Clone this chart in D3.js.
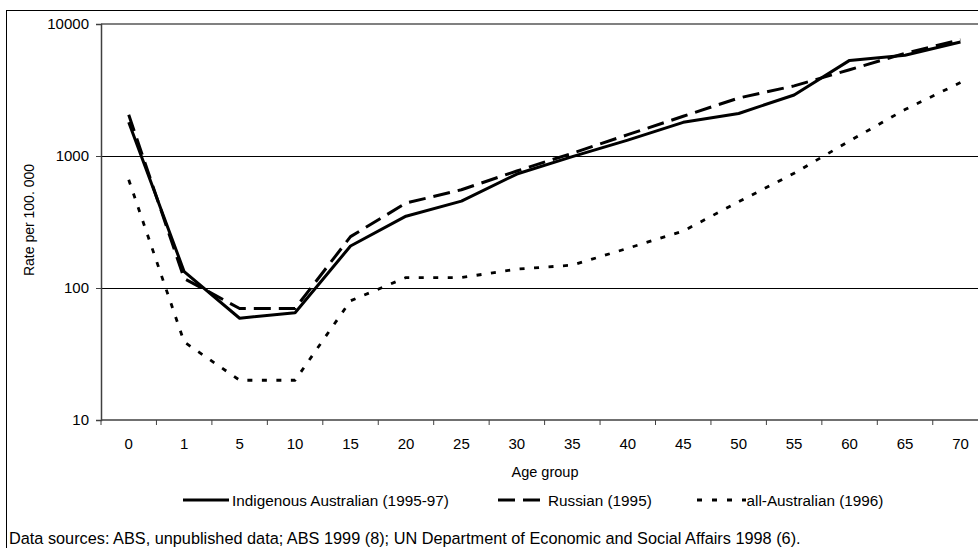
<!DOCTYPE html>
<html>
<head>
<meta charset="utf-8">
<script src="https://cdn.jsdelivr.net/npm/d3@7/dist/d3.min.js"></script>
<style>
  html, body { margin: 0; padding: 0; background: #fff; }
  svg { display: block; font-family: "Liberation Sans", Arial, sans-serif; }
</style>
</head>
<body>
<svg id="chart" width="978" height="548"></svg>
<script>
// Age groups on the category axis
const ageGroups = ["0", "1", "5", "10", "15", "20", "25", "30", "35", "40", "45", "50", "55", "60", "65", "70"];

// Death rates per 100 000 population by age group
const indigenous = [1800, 133, 59, 65, 208, 350, 455, 730, 990, 1320, 1800, 2100, 2900, 5300, 5800, 7300];
const russian = [2050, 118, 70, 70, 245, 440, 555, 770, 1050, 1450, 2000, 2750, 3400, 4500, 6000, 7600];
const allAustralian = [660, 39, 20, 20, 80, 120, 120, 139, 149, 200, 270, 450, 740, 1300, 2250, 3600];

const seriesNames = ["Indigenous Australian (1995-97)", "Russian (1995)", "all-Australian (1996)"];
const yTicks = [10, 100, 1000, 10000];

const series = [
  { name: seriesNames[0], values: indigenous, dash: null, width: 3 },
  { name: seriesNames[1], values: russian, dash: "17,8", width: 3 },
  { name: seriesNames[2], values: allAustralian, dash: "5,9.5", width: 2.8 }
];

const FONT = "'Liberation Sans', Arial, sans-serif";
const svg = d3.select("#chart");

const plot = { left: 101, right: 988.2, top: 24, bottom: 420 };

const x = d3.scaleBand().domain(ageGroups).range([plot.left, plot.right]).padding(0);
const y = d3.scaleLog().domain([10, 10000]).range([plot.bottom, plot.top]);

// Outer frame
svg.append("rect")
  .attr("x", 6.5).attr("y", 10.5)
  .attr("width", 1000).attr("height", 600)
  .attr("fill", "none").attr("stroke", "#000").attr("stroke-width", 1);

// Horizontal gridlines
svg.append("g").selectAll("line")
  .data(yTicks.filter(d => d > 10 && d < 10000))
  .join("line")
  .attr("x1", plot.left).attr("x2", plot.right)
  .attr("y1", d => Math.round(y(d)) + 0.5).attr("y2", d => Math.round(y(d)) + 0.5)
  .attr("stroke", "#000").attr("stroke-width", 1);

// Top border of plot area
svg.append("line")
  .attr("x1", plot.left).attr("x2", plot.right)
  .attr("y1", y(10000)).attr("y2", y(10000))
  .attr("stroke", "#808080").attr("stroke-width", 2);

// Y axis
const yAxis = d3.axisLeft(y).tickValues(yTicks).tickFormat(d3.format("d")).tickSize(5).tickPadding(7);
const gy = svg.append("g").attr("transform", `translate(${plot.left},0)`).call(yAxis);
gy.select(".domain").attr("stroke", "#404040").attr("stroke-width", 1.5);
gy.selectAll(".tick line").attr("stroke", "#404040");
gy.selectAll(".tick text").attr("font-size", 15).attr("fill", "#000").attr("font-family", FONT);

// X axis: labels centred in each band, ticks on band boundaries
const xAxis = d3.axisBottom(x).tickSize(0).tickPadding(18);
const gx = svg.append("g").attr("transform", `translate(0,${plot.bottom})`).call(xAxis);
gx.select(".domain").remove();
gx.selectAll(".tick text").attr("font-size", 15).attr("fill", "#000").attr("font-family", FONT);

svg.append("line")
  .attr("x1", plot.left).attr("x2", plot.right)
  .attr("y1", plot.bottom).attr("y2", plot.bottom)
  .attr("stroke", "#404040").attr("stroke-width", 1.5);

svg.append("g").selectAll("line")
  .data(ageGroups)
  .join("line")
  .attr("x1", d => x(d)).attr("x2", d => x(d))
  .attr("y1", plot.bottom).attr("y2", plot.bottom + 5)
  .attr("stroke", "#404040").attr("stroke-width", 1);

// Axis titles
svg.append("text")
  .attr("x", 545).attr("y", 477)
  .attr("text-anchor", "middle").attr("font-size", 14.5)
  .text("Age group");

svg.append("text")
  .attr("transform", "translate(34,220) rotate(-90)")
  .attr("text-anchor", "middle").attr("font-size", 14)
  .text("Rate per 100. 000");

// Series lines
const line = d3.line()
  .x((d, i) => x(ageGroups[i]) + x.bandwidth() / 2)
  .y(d => y(d));

svg.append("g").selectAll("path")
  .data(series)
  .join("path")
  .attr("d", d => line(d.values))
  .attr("fill", "none")
  .attr("stroke", "#000")
  .attr("stroke-width", d => d.width)
  .attr("stroke-dasharray", d => d.dash)
  .attr("stroke-linejoin", "round");

// Legend
const legendItems = [
  { s: series[0], x0: 183, x1: 229, gap: 3 },
  { s: series[1], x0: 498, x1: 540, gap: 8 },
  { s: series[2], x0: 697, x1: 746, gap: 0.5 }
];
const lg = svg.append("g");
legendItems.forEach(it => {
  lg.append("line")
    .attr("x1", it.x0).attr("x2", it.x1)
    .attr("y1", 500).attr("y2", 500)
    .attr("stroke", "#000").attr("stroke-width", it.s.width)
    .attr("stroke-dasharray", it.s.dash === "5,9.5" ? "5,10" : it.s.dash);
  lg.append("text")
    .attr("x", it.x1 + it.gap).attr("y", 505.5)
    .attr("font-size", 15.3)
    .text(it.s.name);
});

// Source note
svg.append("text")
  .attr("x", 9).attr("y", 544)
  .attr("font-size", 16.3)
  .text("Data sources: ABS, unpublished data; ABS 1999 (8); UN Department of Economic and Social Affairs 1998 (6).");
</script>
</body>
</html>
